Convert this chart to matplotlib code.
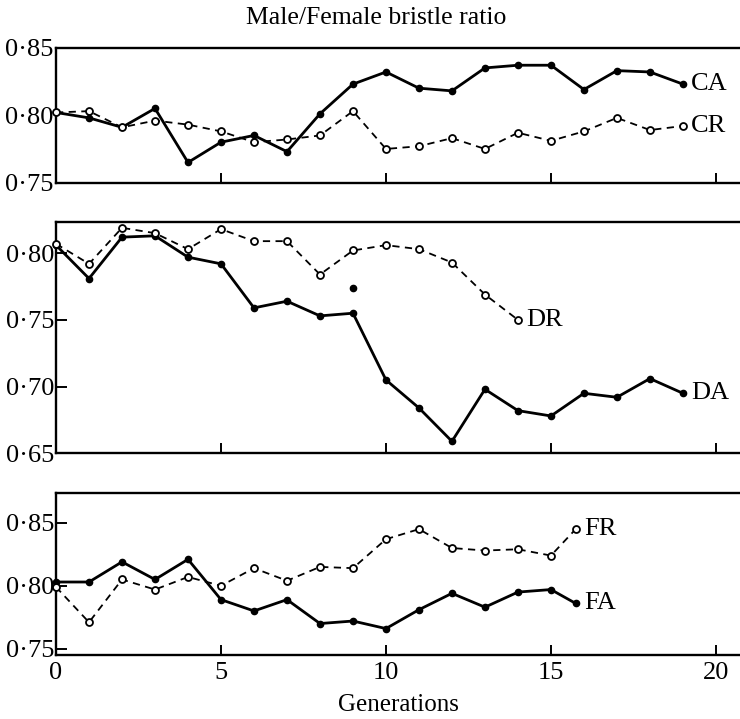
import numpy as np
import matplotlib
matplotlib.use('Agg')
import matplotlib.pyplot as plt
from matplotlib.ticker import FuncFormatter

plt.rcParams['font.family'] = ['Liberation Serif', 'DejaVu Serif']

# Values
gens_c = list(range(20))
ca = [0.802, 0.798, 0.791, 0.805, 0.765, 0.780, 0.785, 0.773, 0.801, 0.823,
      0.832, 0.820, 0.818, 0.835, 0.837, 0.837, 0.819, 0.833, 0.832, 0.823]
cr = [0.802, 0.803, 0.791, 0.796, 0.793, 0.788, 0.780, 0.782, 0.785, 0.803,
      0.775, 0.777, 0.783, 0.775, 0.787, 0.781, 0.788, 0.798, 0.789, 0.792]

gens_da = list(range(20))
da = [0.806, 0.781, 0.812, 0.813, 0.797, 0.792, 0.759, 0.764, 0.753, 0.755,
      0.705, 0.684, 0.659, 0.698, 0.682, 0.678, 0.695, 0.692, 0.706, 0.695]
gens_dr = list(range(15))
dr = [0.807, 0.792, 0.819, 0.815, 0.803, 0.818, 0.809, 0.809, 0.784, 0.802,
      0.806, 0.803, 0.793, 0.769, 0.750]
extra_gen = 9
extra_val = 0.774

gens_f = [0, 1, 2, 3, 4, 5, 6, 7, 8, 9, 10, 11, 12, 13, 14, 15, 15.75]
fa = [0.803, 0.803, 0.819, 0.805, 0.821, 0.789, 0.780, 0.789, 0.770, 0.772,
      0.766, 0.781, 0.794, 0.783, 0.795, 0.797, 0.786]
fr = [0.799, 0.771, 0.805, 0.797, 0.807, 0.800, 0.814, 0.804, 0.815, 0.814,
      0.837, 0.845, 0.830, 0.828, 0.829, 0.824, 0.845]

fmt = FuncFormatter(lambda v, p: f'{v:.2f}'.replace('.', '\u00b7'))

fig = plt.figure(figsize=(7.4, 7.19), dpi=100)
left, right = 0.0757, 1.0
ax1 = fig.add_axes([left, 0.7459, right - left, 0.9337 - 0.7459])
ax2 = fig.add_axes([left, 0.3695, right - left, 0.6917 - 0.3695])
ax3 = fig.add_axes([left, 0.0890, right - left, 0.3143 - 0.0890])


def draw_pair(ax, xa, ya, xr, yr):
    ax.plot(xa, ya, color='black', lw=2.0, marker='o', ms=4.5,
            clip_on=False, zorder=3)
    ax.plot(xr, yr, color='black', lw=1.3, ls=(0, (4, 3)), marker='o', ms=5,
            mfc='white', mew=1.3, clip_on=False, zorder=4)


draw_pair(ax1, gens_c, ca, gens_c, cr)
draw_pair(ax2, gens_da, da, gens_dr, dr)
ax2.plot([extra_gen], [extra_val], 'o', color='black', ms=4.5)
draw_pair(ax3, gens_f, fa, gens_f, fr)

lab = dict(fontsize=19, va='center', ha='left')
ax1.text(19.25, ca[-1], 'CA', **lab)
ax1.text(19.25, cr[-1], 'CR', **lab)
ax2.text(14.25, dr[-1], 'DR', **lab)
ax2.text(19.25, da[-1], 'DA', **lab)
ax3.text(16.0, fr[-1], 'FR', **lab)
ax3.text(16.0, fa[-1], 'FA', **lab)

ax1.set_ylim(0.75, 0.85)
ax1.set_yticks([0.75, 0.80, 0.85])
ax2.set_ylim(0.65, 0.8236)
ax2.set_yticks([0.65, 0.70, 0.75, 0.80])
ax3.set_ylim(0.745, 0.8737)
ax3.set_yticks([0.75, 0.80, 0.85])

for ax in (ax1, ax2, ax3):
    ax.set_xlim(0, 20.73)
    ax.set_xticks([0, 5, 10, 15, 20])
    ax.yaxis.set_major_formatter(fmt)
    ax.spines['right'].set_visible(False)
    for s in ('left', 'top', 'bottom'):
        ax.spines[s].set_linewidth(1.7)
    ax.tick_params(axis='x', direction='in', length=7, width=1.4,
                   labelsize=19, pad=5)
    ax.tick_params(axis='y', direction='in', length=8, width=1.4,
                   labelsize=19, pad=1)

ax1.tick_params(axis='y', length=0, pad=2)
ax1.tick_params(axis='x', labelbottom=False)
ax2.tick_params(axis='x', labelbottom=False)

ax3.set_xlabel('Generations', fontsize=18, labelpad=7)
fig.text(0.508, 0.975, 'Male/Female bristle ratio', fontsize=18.5,
         ha='center', va='center')

fig.savefig('out.png', dpi=100)
